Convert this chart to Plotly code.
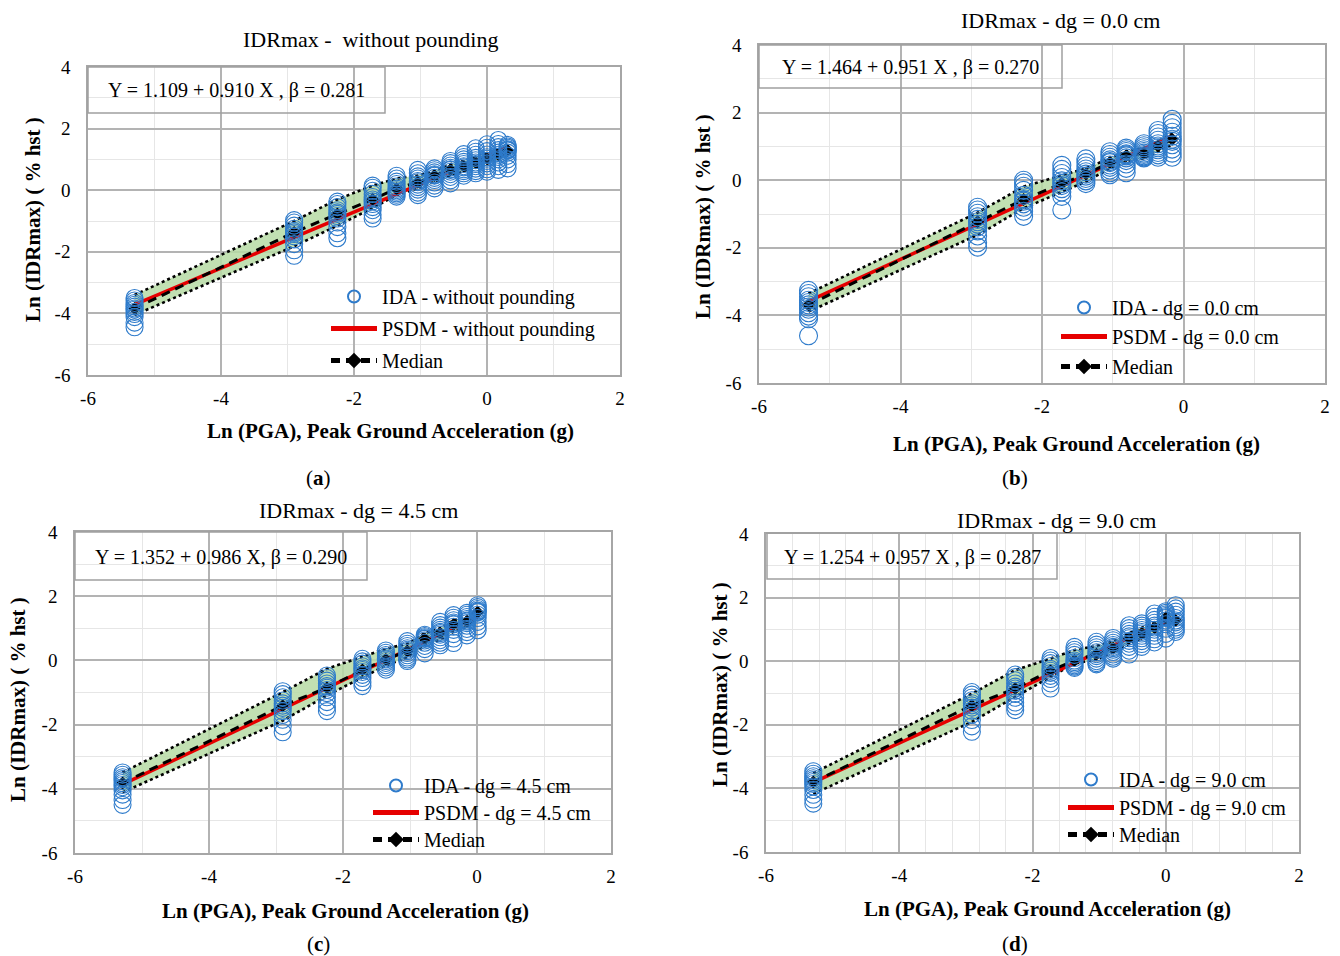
import numpy as np
import plotly.graph_objects as go

W, H = 1340, 956
SERIF = "Liberation Serif, Times New Roman, serif"

# ---------------- data ----------------
# ln(PGA) levels of the IDA stripes, IDA points per stripe, stripe medians,
# dispersion band limits and fitted PSDM coefficients (a, b, beta)

lnpga_a = [-5.30, -2.90, -2.25, -1.72, -1.36, -1.04, -0.79, -0.55, -0.35, -0.17, 0.00, 0.17, 0.31]
ida_a = [
    [-3.50, -3.58, -3.66, -3.72, -3.78, -3.84, -3.88, -3.95, -4.02, -4.12, -4.30, -4.45],
    [-0.97, -1.05, -1.15, -1.25, -1.32, -1.37, -1.42, -1.50, -1.60, -1.75, -1.95, -2.13],
    [-0.37, -0.45, -0.55, -0.65, -0.72, -0.77, -0.84, -0.92, -1.05, -1.20, -1.40, -1.56],
    [0.15, 0.08, -0.02, -0.12, -0.22, -0.30, -0.36, -0.45, -0.55, -0.65, -0.80, -0.92],
    [0.47, 0.38, 0.28, 0.20, 0.12, 0.05, 0.00, -0.05, -0.10, -0.15, -0.21],
    [0.66, 0.55, 0.45, 0.38, 0.30, 0.26, 0.18, 0.10, 0.02, -0.08, -0.16],
    [0.71, 0.65, 0.58, 0.52, 0.49, 0.47, 0.40, 0.33, 0.25, 0.15, 0.06],
    [0.95, 0.88, 0.80, 0.73, 0.68, 0.66, 0.60, 0.52, 0.43, 0.32, 0.22],
    [1.17, 1.08, 1.00, 0.92, 0.85, 0.78, 0.74, 0.68, 0.62, 0.55, 0.47],
    [1.36, 1.25, 1.15, 1.05, 0.97, 0.90, 0.85, 0.78, 0.70, 0.62, 0.55],
    [1.49, 1.38, 1.27, 1.16, 1.07, 1.02, 0.95, 0.87, 0.78, 0.68, 0.60],
    [1.63, 1.50, 1.40, 1.30, 1.22, 1.15, 1.08, 1.00, 0.90, 0.78, 0.66],
    [1.47, 1.42, 1.38, 1.33, 1.30, 1.29, 1.22, 1.12, 1.00, 0.85, 0.71],
]
median_a = [-3.84, -1.37, -0.77, -0.30, 0.05, 0.26, 0.47, 0.66, 0.78, 0.90, 1.02, 1.15, 1.29]
band_hi_a = [-3.40, -1.00, -0.30, 0.15, 0.38, 0.48, 0.62, 0.84, 0.95, 1.08, 1.18, 1.30, 1.42]
band_lo_a = [-4.05, -1.82, -1.15, -0.58, -0.16, 0.06, 0.28, 0.48, 0.62, 0.74, 0.86, 1.00, 1.14]
psdm_a = (1.109, 0.910, 0.281)

lnpga_b = [-5.30, -2.91, -2.26, -1.72, -1.38, -1.04, -0.81, -0.56, -0.36, -0.16]
ida_b = [
    [-3.26, -3.35, -3.45, -3.55, -3.62, -3.69, -3.75, -3.82, -3.92, -4.02, -4.10, -4.60],
    [-0.80, -0.88, -0.98, -1.08, -1.16, -1.23, -1.30, -1.38, -1.50, -1.65, -1.85, -1.98],
    [0.00, -0.08, -0.18, -0.30, -0.45, -0.57, -0.62, -0.70, -0.80, -0.92, -1.07],
    [0.44, 0.32, 0.20, 0.08, -0.02, -0.10, -0.16, -0.25, -0.35, -0.48, -0.88],
    [0.63, 0.52, 0.42, 0.33, 0.25, 0.18, 0.12, 0.05, -0.02, -0.10],
    [0.84, 0.76, 0.68, 0.60, 0.55, 0.52, 0.45, 0.38, 0.30, 0.22, 0.16],
    [0.95, 0.90, 0.85, 0.78, 0.75, 0.72, 0.66, 0.58, 0.48, 0.35, 0.22],
    [1.08, 1.02, 0.96, 0.90, 0.85, 0.80, 0.76, 0.72, 0.69, 0.66],
    [1.47, 1.38, 1.28, 1.18, 1.08, 1.01, 0.96, 0.90, 0.82, 0.75, 0.68],
    [1.80, 1.68, 1.55, 1.42, 1.30, 1.21, 1.15, 1.05, 0.92, 0.80, 0.68],
]
median_b = [-3.69, -1.23, -0.57, -0.10, 0.18, 0.52, 0.72, 0.80, 1.01, 1.21]
band_hi_b = [-3.35, -0.96, -0.19, 0.15, 0.35, 0.65, 0.85, 0.95, 1.15, 1.38]
band_lo_b = [-3.89, -1.62, -0.83, -0.34, -0.04, 0.35, 0.55, 0.65, 0.85, 1.05]
psdm_b = (1.464, 0.951, 0.270)

lnpga_c = [-5.29, -2.90, -2.24, -1.71, -1.36, -1.04, -0.78, -0.55, -0.35, -0.15, 0.01]
ida_c = [
    [-3.49, -3.56, -3.64, -3.70, -3.76, -3.82, -3.88, -3.95, -4.05, -4.18, -4.35, -4.50],
    [-0.96, -1.05, -1.15, -1.25, -1.34, -1.41, -1.48, -1.58, -1.70, -1.85, -2.05, -2.24],
    [-0.47, -0.55, -0.63, -0.72, -0.80, -0.85, -0.92, -1.02, -1.15, -1.30, -1.45, -1.58],
    [0.05, -0.03, -0.10, -0.18, -0.25, -0.30, -0.36, -0.45, -0.55, -0.68, -0.80],
    [0.31, 0.24, 0.17, 0.11, 0.06, 0.03, -0.02, -0.08, -0.15, -0.22, -0.29],
    [0.60, 0.52, 0.45, 0.38, 0.33, 0.29, 0.23, 0.16, 0.09, 0.03, -0.02],
    [0.80, 0.76, 0.72, 0.69, 0.67, 0.62, 0.55, 0.45, 0.35, 0.22],
    [1.20, 1.10, 1.02, 0.95, 0.89, 0.85, 0.80, 0.72, 0.63, 0.55, 0.47],
    [1.41, 1.33, 1.25, 1.18, 1.14, 1.12, 1.05, 0.95, 0.82, 0.68, 0.54],
    [1.48, 1.42, 1.35, 1.29, 1.24, 1.21, 1.16, 1.08, 0.98, 0.88, 0.78],
    [1.72, 1.66, 1.60, 1.55, 1.52, 1.50, 1.42, 1.32, 1.20, 1.06, 0.94],
]
median_c = [-3.82, -1.41, -0.85, -0.30, 0.03, 0.29, 0.67, 0.85, 1.12, 1.21, 1.50]
band_hi_c = [-3.49, -0.99, -0.26, 0.10, 0.36, 0.52, 0.85, 1.00, 1.25, 1.35, 1.60]
band_lo_c = [-4.11, -1.88, -1.09, -0.52, -0.16, 0.10, 0.45, 0.65, 0.90, 1.05, 1.30]
psdm_c = (1.352, 0.986, 0.290)

lnpga_d = [-5.29, -2.91, -2.26, -1.73, -1.37, -1.04, -0.79, -0.55, -0.36, -0.17, 0.00, 0.15]
ida_d = [
    [-3.46, -3.54, -3.62, -3.68, -3.74, -3.80, -3.86, -3.94, -4.05, -4.20, -4.35, -4.48],
    [-0.97, -1.05, -1.14, -1.23, -1.32, -1.39, -1.46, -1.56, -1.68, -1.85, -2.05, -2.22],
    [-0.42, -0.50, -0.60, -0.70, -0.80, -0.86, -0.93, -1.03, -1.15, -1.30, -1.42, -1.54],
    [0.10, 0.02, -0.06, -0.15, -0.24, -0.30, -0.37, -0.46, -0.56, -0.70, -0.86],
    [0.45, 0.36, 0.28, 0.20, 0.10, 0.02, -0.03, -0.08, -0.13, -0.17, -0.21],
    [0.61, 0.52, 0.44, 0.36, 0.28, 0.22, 0.16, 0.08, 0.00, -0.06, -0.10],
    [0.73, 0.66, 0.58, 0.51, 0.45, 0.41, 0.36, 0.29, 0.21, 0.14, 0.08],
    [1.13, 1.04, 0.95, 0.86, 0.78, 0.72, 0.64, 0.55, 0.45, 0.33, 0.21],
    [1.19, 1.12, 1.05, 0.98, 0.92, 0.87, 0.80, 0.72, 0.63, 0.54, 0.45],
    [1.50, 1.40, 1.30, 1.21, 1.12, 1.06, 0.99, 0.90, 0.80, 0.69, 0.59],
    [1.57, 1.52, 1.47, 1.42, 1.38, 1.36, 1.28, 1.16, 1.02, 0.86, 0.71],
    [1.76, 1.66, 1.56, 1.46, 1.36, 1.28, 1.22, 1.14, 1.06, 0.99, 0.92],
]
median_d = [-3.80, -1.39, -0.86, -0.30, 0.02, 0.22, 0.41, 0.72, 0.87, 1.06, 1.36, 1.28]
band_hi_d = [-3.52, -1.02, -0.28, 0.08, 0.35, 0.48, 0.62, 0.88, 1.05, 1.20, 1.50, 1.45]
band_lo_d = [-4.17, -1.91, -1.12, -0.49, -0.07, 0.05, 0.28, 0.55, 0.72, 0.90, 1.20, 1.15]
psdm_d = (1.254, 0.957, 0.287)

x_ticks = [-6, -4, -2, 0, 2]
x_tick_text = ["-6", "-4", "-2", "0", "2"]
y_ticks = [-6, -4, -2, 0, 2, 4]
y_tick_text = ["-6", "-4", "-2", "0", "2", "4"]

titles = ["IDRmax -  without pounding", "IDRmax - dg = 0.0 cm",
          "IDRmax - dg = 4.5 cm", "IDRmax - dg = 9.0 cm"]
cases = ["without pounding", "dg = 0.0 cm", "dg = 4.5 cm", "dg = 9.0 cm"]
equations = ["Y = 1.109 + 0.910 X , β = 0.281", "Y = 1.464 + 0.951 X , β = 0.270",
             "Y = 1.352 + 0.986 X, β = 0.290", "Y = 1.254 + 0.957 X , β = 0.287"]
panel_tags = ["a", "b", "c", "d"]
x_title = "Ln (PGA), Peak Ground Acceleration (g)"
y_title = "Ln (IDRmax) ( % hst )"

# ---------------- layout geometry (pixels) ----------------
# legend: (x where the entry text starts, centre y of each of the three rows)
panels = [
    dict(lnpga=lnpga_a, ida=ida_a, med=median_a, hi=band_hi_a, lo=band_lo_a, fit=psdm_a,
         box=(88, 67, 620, 375), eqbox=(88, 67, 385, 113), title=(370, 39), ytitle=(33, 220),
         xtitle=(390, 431), tag=(318, 478), legend=(383, (297, 329, 361)), msize=17, xminor=1),
    dict(lnpga=lnpga_b, ida=ida_b, med=median_b, hi=band_hi_b, lo=band_lo_b, fit=psdm_b,
         box=(759, 45, 1325, 383), eqbox=(759, 45, 1062, 88), title=(1060, 21), ytitle=(703, 216),
         xtitle=(1076, 444), tag=(1015, 478), legend=(1113, (308, 337, 367)), msize=18, xminor=1),
    dict(lnpga=lnpga_c, ida=ida_c, med=median_c, hi=band_hi_c, lo=band_lo_c, fit=psdm_c,
         box=(75, 532, 611, 853), eqbox=(75, 532, 367, 580), title=(358, 511), ytitle=(18, 700),
         xtitle=(345, 911), tag=(318, 944), legend=(425, (786, 813, 840)), msize=17, xminor=1),
    dict(lnpga=lnpga_d, ida=ida_d, med=median_d, hi=band_hi_d, lo=band_lo_d, fit=psdm_d,
         box=(766, 534, 1299, 852), eqbox=(767, 533, 1057, 579), title=(1056, 520), ytitle=(720, 685),
         xtitle=(1047, 909), tag=(1015, 944), legend=(1120, (780, 808, 835)), msize=17, xminor=0.4),
]


def px(x):
    return x / W


def py(y):
    return 1 - y / H


IDA_BLUE = "#2E7BCB"
PSDM_RED = "#E60000"
BAND_GREEN = "rgba(182,219,165,0.85)"
GRID_MAJOR = "#B3B3B3"
GRID_MINOR = "#E6E6E6"

fig = go.Figure()
layout = dict(
    width=W, height=H, margin=dict(l=0, r=0, t=0, b=0, autoexpand=False),
    paper_bgcolor="white", plot_bgcolor="white", showlegend=True,
    annotations=[], shapes=[],
)

legend_count = 0


def new_legend(text_x, row_y):
    """One single-entry legend placed so its text starts at text_x, centred on row_y."""
    global legend_count
    legend_count += 1
    lid = "legend" if legend_count == 1 else f"legend{legend_count}"
    layout[lid] = dict(
        x=px(text_x - 57), y=py(row_y - 20), xanchor="left", yanchor="top",
        bgcolor="rgba(0,0,0,0)", borderwidth=0,
        font=dict(family=SERIF, size=20, color="black"),
        itemwidth=46, itemsizing="constant",
    )
    return lid


for i, p in enumerate(panels, start=1):
    xa = "x" if i == 1 else f"x{i}"
    ya = "y" if i == 1 else f"y{i}"
    x0, y0, x1, y1 = p["box"]
    ltx, rows = p["legend"]

    axis_common = dict(
        showgrid=True, gridcolor=GRID_MAJOR, gridwidth=1.5,
        showline=True, linecolor="#A6A6A6", linewidth=1.5, mirror=True,
        zeroline=False, ticks="", tickmode="array",
        tickfont=dict(family=SERIF, size=19, color="black"),
        fixedrange=True,
    )
    layout["xaxis" if i == 1 else f"xaxis{i}"] = dict(
        axis_common, domain=[px(x0), px(x1)], anchor=ya, range=[-6, 2],
        tickvals=x_ticks, ticktext=x_tick_text, ticklabelstandoff=5,
        minor=dict(tickmode="linear", tick0=-6, dtick=p["xminor"], showgrid=True,
                   gridcolor=GRID_MINOR, gridwidth=1, ticks=""),
    )
    layout["yaxis" if i == 1 else f"yaxis{i}"] = dict(
        axis_common, domain=[py(y1), py(y0)], anchor=xa, range=[-6, 4],
        tickvals=y_ticks, ticktext=y_tick_text, ticklabelstandoff=12,
        minor=dict(tickmode="linear", tick0=-6, dtick=1, showgrid=True,
                   gridcolor=GRID_MINOR, gridwidth=1, ticks=""),
    )

    lnx = np.array(p["lnpga"])
    a, b, beta = p["fit"]

    # dispersion band (green fill between the two dotted limits)
    fig.add_trace(go.Scatter(x=lnx, y=p["lo"], mode="lines", line=dict(width=0),
                             hoverinfo="skip", showlegend=False, xaxis=xa, yaxis=ya))
    fig.add_trace(go.Scatter(x=lnx, y=p["hi"], mode="lines", line=dict(width=0),
                             fill="tonexty", fillcolor=BAND_GREEN,
                             hoverinfo="skip", showlegend=False, xaxis=xa, yaxis=ya))
    for lim in (p["lo"], p["hi"]):
        fig.add_trace(go.Scatter(x=lnx, y=lim, mode="lines",
                                 line=dict(color="black", width=2.6, dash="dot"),
                                 hoverinfo="skip", showlegend=False, xaxis=xa, yaxis=ya))

    lg_ida = new_legend(ltx, rows[0])
    lg_psdm = new_legend(ltx, rows[1])
    lg_med = new_legend(ltx, rows[2])

    # fitted PSDM line
    fx = np.array([lnx[0], lnx[-1]])
    fig.add_trace(go.Scatter(x=fx, y=a + b * fx, mode="lines",
                             line=dict(color=PSDM_RED, width=3.5),
                             name=f"PSDM - {cases[i-1]}", legend=lg_psdm,
                             xaxis=xa, yaxis=ya))

    # stripe medians (drawn beneath the IDA circles)
    fig.add_trace(go.Scatter(x=lnx, y=p["med"], mode="lines+markers",
                             line=dict(color="black", width=3, dash="9px,6px"),
                             marker=dict(symbol="diamond", size=10, color="black"),
                             name="Median", legend=lg_med, xaxis=xa, yaxis=ya))

    # IDA points
    xs, ys = [], []
    for xv, col in zip(p["lnpga"], p["ida"]):
        xs += [xv] * len(col)
        ys += col
    fig.add_trace(go.Scatter(x=xs, y=ys, mode="markers",
                             marker=dict(symbol="circle-open", size=p["msize"], color=IDA_BLUE,
                                         line=dict(width=1.1, color=IDA_BLUE)),
                             name=f"IDA - {cases[i-1]}", legend=lg_ida,
                             xaxis=xa, yaxis=ya))

    # equation box
    ex0, ey0, ex1, ey1 = p["eqbox"]
    layout["shapes"].append(dict(type="rect", xref="paper", yref="paper",
                                 x0=px(ex0), x1=px(ex1), y0=py(ey1), y1=py(ey0),
                                 line=dict(color="#A0A0A0", width=1.5), fillcolor="rgba(0,0,0,0)"))
    layout["annotations"].append(dict(text=equations[i-1], xref="paper", yref="paper",
                                      x=px((ex0 + ex1) / 2), y=py((ey0 + ey1) / 2 + 1),
                                      showarrow=False, xanchor="center", yanchor="middle",
                                      font=dict(family=SERIF, size=20, color="black")))

    tx, ty = p["title"]
    layout["annotations"].append(dict(text=titles[i-1], xref="paper", yref="paper",
                                      x=px(tx), y=py(ty), showarrow=False,
                                      xanchor="center", yanchor="middle",
                                      font=dict(family=SERIF, size=22, color="black")))
    yx, yy = p["ytitle"]
    layout["annotations"].append(dict(text=f"<b>{y_title}</b>", xref="paper", yref="paper",
                                      x=px(yx), y=py(yy), showarrow=False, textangle=-90,
                                      xanchor="center", yanchor="middle",
                                      font=dict(family=SERIF, size=21, color="black")))
    xx, xy = p["xtitle"]
    layout["annotations"].append(dict(text=f"<b>{x_title}</b>", xref="paper", yref="paper",
                                      x=px(xx), y=py(xy), showarrow=False,
                                      xanchor="center", yanchor="middle",
                                      font=dict(family=SERIF, size=21, color="black")))
    gx, gy = p["tag"]
    layout["annotations"].append(dict(text=f"(<b>{panel_tags[i-1]}</b>)", xref="paper", yref="paper",
                                      x=px(gx), y=py(gy), showarrow=False,
                                      xanchor="center", yanchor="middle",
                                      font=dict(family=SERIF, size=21, color="black")))

fig.update_layout(**layout)

# the page body gets no default margin so the 1340x956 figure fills the window exactly
fig.write_html(
    "out.html",
    post_script="document.body.style.margin='0';document.body.style.overflow='hidden';",
)
